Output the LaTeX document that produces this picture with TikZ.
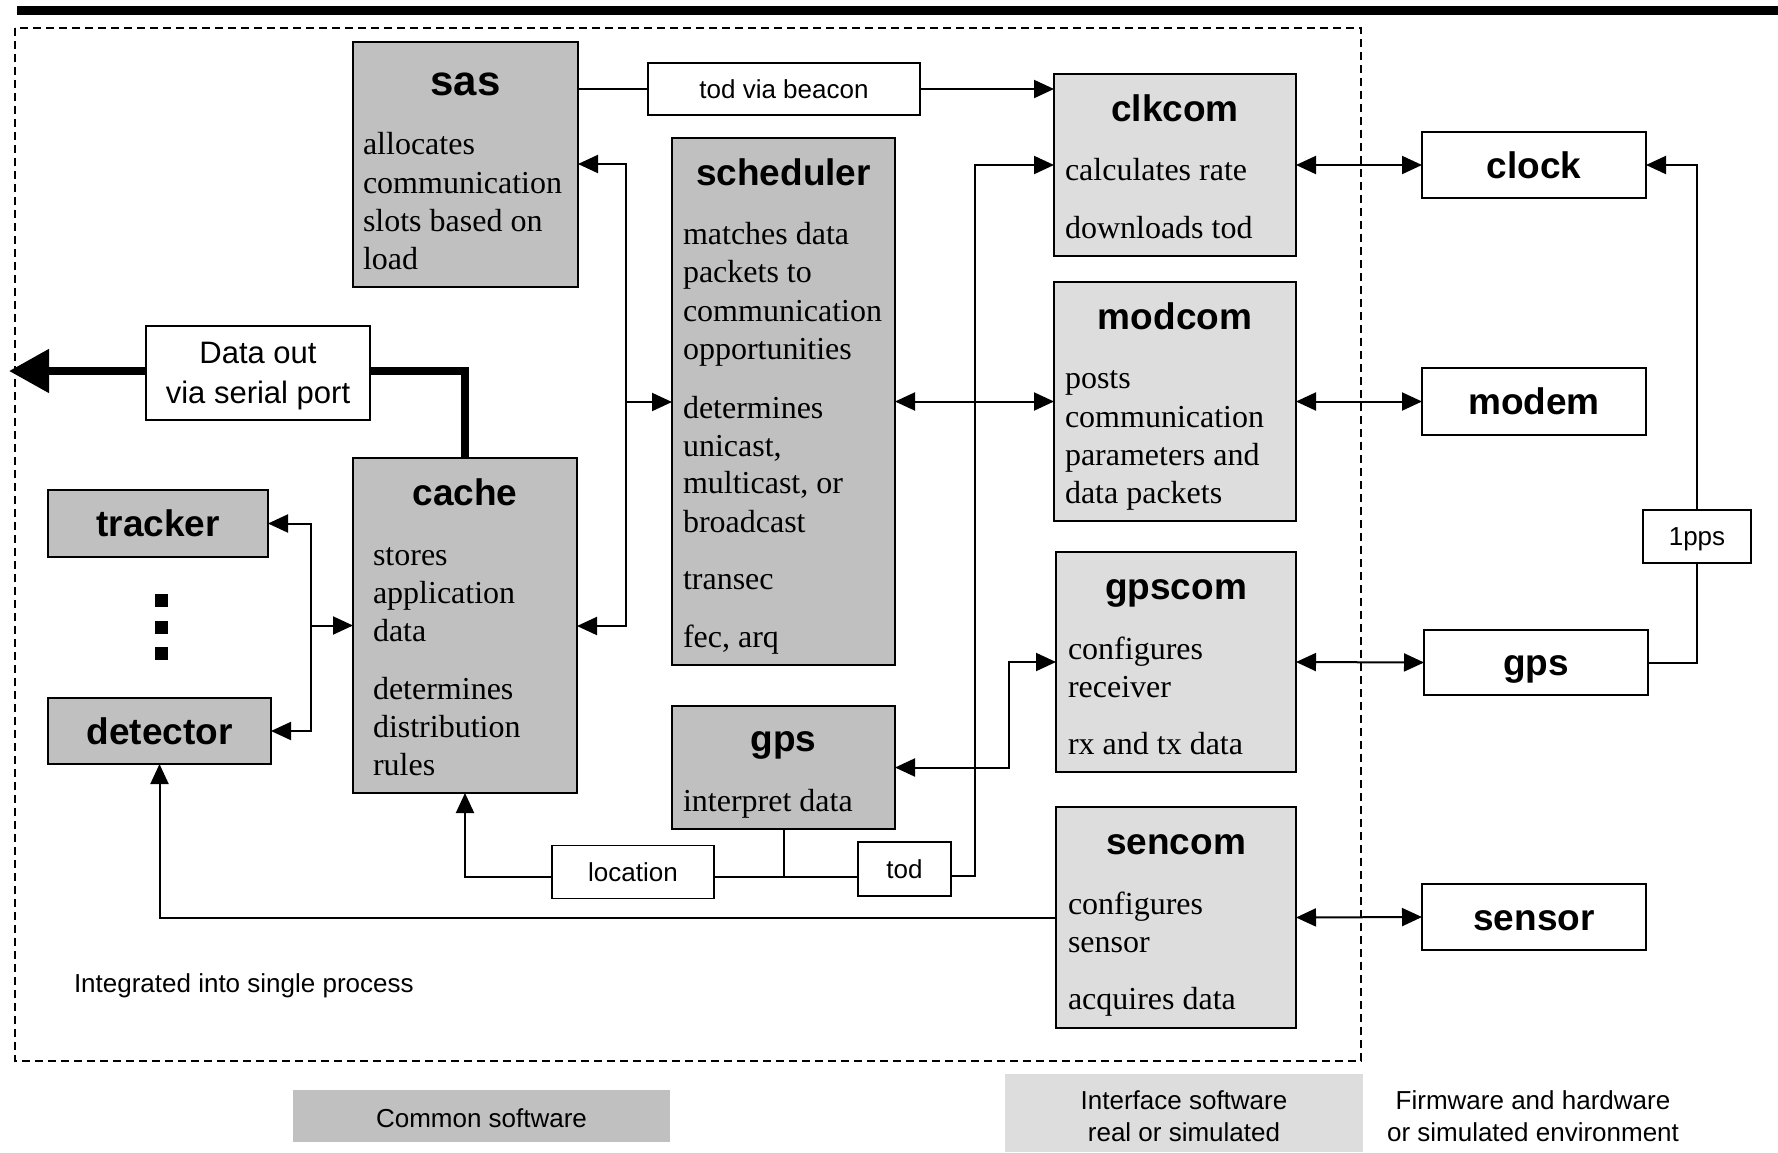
\documentclass[tikz,border=0pt]{standalone}
\usepackage{fontspec}
\setmainfont{Liberation Serif}
\setsansfont{Liberation Sans}
\usetikzlibrary{arrows.meta}
\definecolor{commongray}{HTML}{C0C0C0}
\definecolor{ifacegray}{HTML}{DDDDDD}

\begin{document}
\begin{tikzpicture}[x=1pt,y=-1pt,
  every node/.style={inner sep=0pt,outer sep=0pt},
  >={Triangle[length=20pt,width=18pt]},
  wh/.style 2 args={minimum width=#1pt,minimum height=#2pt},
  comsw/.style={draw,line width=2pt,fill=commongray},
  iface/.style={draw,line width=2pt,fill=ifacegray},
  hw/.style={draw,line width=2pt,fill=white,text height=26.5pt,text depth=0pt,
    font=\sffamily\bfseries\fontsize{37}{44}\selectfont},
  lbl/.style={draw,line width=1.6pt,fill=white,text height=18.6pt,text depth=0pt,
    font=\sffamily\fontsize{26}{32}\selectfont},
  title/.style={anchor=base,font=\sffamily\bfseries\fontsize{37}{44}\selectfont},
  body/.style={anchor=base west,yshift=-2.5pt,font=\fontsize{32}{38}\selectfont},
  small/.style={font=\sffamily\fontsize{26}{32}\selectfont},
  wire/.style={line width=2pt}]
\useasboundingbox (0,0) rectangle (1778,1152);

\fill (17,6) rectangle (1778,15);
\draw[line width=1.8pt,dash pattern=on 8pt off 5pt] (15,28) rectangle (1361,1061);

% common software
\node[comsw,wh={225}{245}] (sas) at (465.5,164.5) {};
\node[title,font=\sffamily\bfseries\fontsize{42}{48}\selectfont] (sas-t) at (465.5,95) {sas};
\foreach \y/\t [count=\i] in {152/allocates,191/communication,229/slots based on,267/load}
  \node[body] (sas-\i) at (363,\y) {\t};

\node[comsw,wh={223}{527}] (sched) at (783.5,401.5) {};
\node[title] (sched-t) at (783.5,185) {scheduler};
\foreach \y/\t [count=\i] in {242/matches data,280/packets to,319/communication,357/opportunities,
    416/determines,454/{unicast,},491/{multicast, or},530/broadcast,587/transec,645/{fec, arq}}
  \node[body] (sched-\i) at (683,\y) {\t};

\node[comsw,wh={224}{335}] (cache) at (465,625.5) {};
\node[title] (cache-t) at (465,505) {cache};
\foreach \y/\t [count=\i] in {563/stores,601/application,639/data,697/determines,735/distribution,773/rules}
  \node[body] (cache-\i) at (373,\y) {\t};

\node[comsw,wh={223}{123}] (gpssw) at (783.5,767.5) {};
\node[title] (gpssw-t) at (783.5,751) {gps};
\node[body] (gpssw-1) at (683,809) {interpret data};

\node[comsw,hw,fill=commongray,wh={220}{67}] (tracker) at (158,523.5) {tracker};
\node[comsw,hw,fill=commongray,wh={223}{66}] (detector) at (159.5,731) {detector};
\foreach \y [count=\i] in {600,627,653}
  \fill (154.5,\y-6.5) rectangle (167.5,\y+6.5);

% interface software
\node[iface,wh={242}{182}] (clkcom) at (1175,165) {};
\node[title] (clkcom-t) at (1175,121) {clkcom};
\node[body] (clkcom-1) at (1065,178) {calculates rate};
\node[body] (clkcom-2) at (1065,236) {downloads tod};

\node[iface,wh={242}{239}] (modcom) at (1175,401.5) {};
\node[title] (modcom-t) at (1175,329) {modcom};
\foreach \y/\t [count=\i] in {386/posts,425/communication,463/parameters and,501/data packets}
  \node[body] (modcom-\i) at (1065,\y) {\t};

\node[iface,wh={240}{220}] (gpscom) at (1176,662) {};
\node[title] (gpscom-t) at (1176,599) {gpscom};
\foreach \y/\t [count=\i] in {657/configures,695/receiver,752/rx and tx data}
  \node[body] (gpscom-\i) at (1068,\y) {\t};

\node[iface,wh={240}{221}] (sencom) at (1176,917.5) {};
\node[title] (sencom-t) at (1176,854) {sencom};
\foreach \y/\t [count=\i] in {912/configures,950/sensor,1007/acquires data}
  \node[body] (sencom-\i) at (1068,\y) {\t};

% hardware
\node[hw,wh={224}{66}] (clock) at (1534,165) {clock};
\node[hw,wh={224}{67}] (modem) at (1534,401.5) {modem};
\node[hw,wh={224}{65}] (gpshw) at (1536,662.5) {gps};
\node[hw,wh={224}{66}] (sensor) at (1534,917) {sensor};

% labels
\node[lbl,wh={272}{52}] (beacon) at (784,89) {tod via beacon};
\node[lbl,wh={162}{53}] (location) at (633,872) {location};
\node[lbl,wh={93}{54}] (tod) at (904.5,869) {tod};
\node[lbl,wh={108}{53}] (pps) at (1697,536.5) {1pps};
\node[draw,line width=1.6pt,fill=white,wh={224}{94},align=center,text depth=-4pt,
  font=\sffamily\fontsize{31}{40}\selectfont] (dataout) at (258,373) {Data out\\via serial port};

% connectors
\draw[wire] (sas.east |- beacon.west) -- (beacon.west);
\draw[wire,->] (beacon.east) -- (clkcom.west |- beacon.east);

\coordinate (b1) at (626,164);
\coordinate (b2) at (626,626);
\coordinate (b3) at (626,402);
\draw[wire,<->] (sas.east |- b1) -- (b1) -- (b2) -- (cache.east |- b2);
\draw[wire,->] (b3) -- (sched.west |- b3);
\draw[wire,<->] (sched.east) -- (modcom.west);

\draw[wire,<->] (clkcom.east) -- (clock.west);
\draw[wire,<->] (modcom.east) -- (modem.west);
\draw[wire,<->] (gpscom.east) -- (gpshw.west);
\draw[wire,<->] (sencom.east) -- (sensor.west);

\coordinate (t1) at (974.5,876);
\draw[wire,->] (tod.east |- t1) -- (t1) -- (t1 |- clkcom.west) -- (clkcom.west);

\coordinate (g1) at (1009,767.5);
\draw[wire,<->] (gpssw.east |- g1) -- (g1) -- (g1 |- gpscom.west) -- (gpscom.west);

\coordinate (l1) at (465,877);
\draw[wire] (location.east |- l1) -- (tod.west |- l1);
\draw[wire] (gpssw.south) -- (gpssw.south |- l1);
\draw[wire,->] (location.west |- l1) -- (l1) -- (cache.south);

\draw[wire,->] (sencom.west) -- (detector.south |- sencom.west) -- (detector.south);

\coordinate (k1) at (311,523.5);
\coordinate (k2) at (311,731);
\draw[wire,<->] (tracker.east) -- (k1) -- (k2) -- (detector.east);
\draw[wire,->] (cache.west -| k1) -- (cache.west);

\coordinate (outtip) at (9,371);
\draw[line width=8pt] (cache.north) -- (cache.north |- outtip) -- (dataout.east |- outtip);
\draw[line width=8pt,-{Triangle[length=40pt,width=42pt]}] (dataout.west |- outtip) -- (outtip);

\draw[wire] (gpshw.east) -- (gpshw.east -| pps.south) -- (pps.south);
\draw[wire,->] (pps.north) -- (pps.north |- clock.east) -- (clock.east);

% legend
\node[small,anchor=base west] (integrated) at (74,992) {Integrated into single process};
\fill[commongray] (293,1090) rectangle (670,1142);
\node[small,anchor=base] (common) at (481.5,1127) {Common software};
\fill[ifacegray] (1005,1074) rectangle (1363,1152);
\node[small,anchor=north,align=center] (iface) at (1184,1090.5) {Interface software\\real or simulated};
\node[small,anchor=north,align=center] (firm) at (1533,1090.5) {Firmware and hardware\\or simulated environment};
\end{tikzpicture}
\end{document}
